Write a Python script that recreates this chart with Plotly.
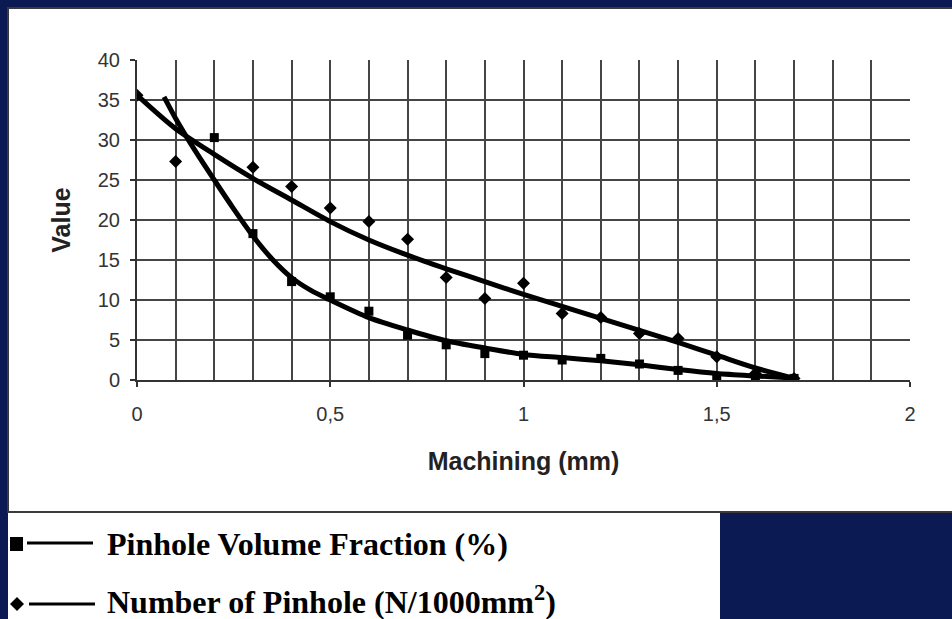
import plotly.graph_objects as go

# ---- data ----
# Pinhole Volume Fraction (%) - square markers
pvf_x = [0.2, 0.3, 0.4, 0.5, 0.6, 0.7, 0.8, 0.9, 1.0, 1.1, 1.2, 1.3, 1.4, 1.5, 1.6, 1.7]
pvf_y = [30.3, 18.3, 12.3, 10.4, 8.6, 5.6, 4.4, 3.3, 3.1, 2.5, 2.7, 2.0, 1.2, 0.2, 0.2, 0.2]
# fitted curve for Pinhole Volume Fraction
pvf_fit_x = [0.07, 0.1, 0.15, 0.2, 0.25, 0.3, 0.35, 0.4, 0.45, 0.5, 0.6, 0.7, 0.8, 0.9, 1.0, 1.1, 1.2, 1.3, 1.4, 1.5, 1.6, 1.7]
pvf_fit_y = [35.4, 32.7, 28.7, 25.0, 21.4, 18.0, 15.1, 12.8, 11.2, 10.0, 7.8, 6.25, 4.9, 4.0, 3.2, 2.8, 2.4, 1.9, 1.3, 0.8, 0.5, 0.25]

# Number of Pinhole (N/1000mm2) - diamond markers
nop_x = [0.0, 0.1, 0.3, 0.4, 0.5, 0.6, 0.7, 0.8, 0.9, 1.0, 1.1, 1.2, 1.3, 1.4, 1.5, 1.6, 1.7]
nop_y = [35.6, 27.3, 26.6, 24.2, 21.5, 19.8, 17.6, 12.8, 10.2, 12.1, 8.3, 7.8, 5.8, 5.2, 2.9, 0.8, 0.2]
# fitted curve for Number of Pinhole
nop_fit_x = [0.0, 0.1, 0.2, 0.3, 0.4, 0.5, 0.6, 0.7, 0.8, 0.9, 1.0, 1.1, 1.2, 1.3, 1.4, 1.5, 1.6, 1.7]
nop_fit_y = [35.6, 31.4, 28.2, 25.2, 22.5, 19.8, 17.5, 15.6, 13.9, 12.3, 10.7, 9.2, 7.7, 6.2, 4.7, 3.1, 1.5, 0.2]

x_tick_vals = [0, 0.5, 1, 1.5, 2]
x_tick_text = ["0", "0,5", "1", "1,5", "2"]
y_tick_vals = [0, 5, 10, 15, 20, 25, 30, 35, 40]

legend_labels = ["Pinhole Volume Fraction (%)", "Number of Pinhole (N/1000mm<sup>2</sup>)"]

# ---- figure geometry ----
W, H = 952, 619
L, R, T, B = 137, 910, 60, 380  # plot area in pixels


def px(x):
    return (x - L) / (R - L)


def py(y):
    return (B - y) / (B - T)


NAVY = "#0b1a52"
GRID = "#454545"

fig = go.Figure()

fig.add_trace(go.Scatter(x=pvf_fit_x, y=pvf_fit_y, mode="lines",
                         line=dict(color="black", width=5, shape="spline", smoothing=0.8),
                         showlegend=False, hoverinfo="skip"))
fig.add_trace(go.Scatter(x=nop_fit_x, y=nop_fit_y, mode="lines",
                         line=dict(color="black", width=5, shape="spline", smoothing=0.8),
                         showlegend=False, hoverinfo="skip"))
fig.add_trace(go.Scatter(x=pvf_x, y=pvf_y, mode="markers", name=legend_labels[0],
                         marker=dict(symbol="square", size=9, color="black"),
                         showlegend=False))
fig.add_trace(go.Scatter(x=nop_x, y=nop_y, mode="markers", name=legend_labels[1],
                         marker=dict(symbol="diamond", size=10, color="black"),
                         showlegend=False))

shapes = [
    # white chart box with dark border
    dict(type="rect", xref="paper", yref="paper", x0=px(8), x1=px(965), y0=py(512), y1=py(8),
         fillcolor="white", line=dict(color="#3a3a3a", width=2), layer="below"),
    # white legend area below the box
    dict(type="rect", xref="paper", yref="paper", x0=px(8), x1=px(720), y0=py(625), y1=py(513),
         fillcolor="white", line=dict(width=0), layer="below"),
    # legend glyphs
    dict(type="rect", xref="paper", yref="paper", x0=px(10), x1=px(23), y0=py(551), y1=py(537),
         fillcolor="black", line=dict(width=0)),
    dict(type="line", xref="paper", yref="paper", x0=px(27), x1=px(93), y0=py(543), y1=py(543),
         line=dict(color="black", width=3)),
    dict(type="path", xref="paper", yref="paper",
         path=f"M {px(10)} {py(604)} L {px(17)} {py(597)} L {px(24)} {py(604)} L {px(17)} {py(611)} Z",
         fillcolor="black", line=dict(width=0)),
    dict(type="line", xref="paper", yref="paper", x0=px(29), x1=px(95), y0=py(604), y1=py(604),
         line=dict(color="black", width=3)),
]

annotations = [
    dict(text=legend_labels[0], xref="paper", yref="paper", x=px(105), y=py(544),
         xanchor="left", yanchor="middle", showarrow=False,
         font=dict(family="Liberation Serif", size=32, color="black", weight="bold")),
    dict(text=legend_labels[1], xref="paper", yref="paper", x=px(105), y=py(600),
         xanchor="left", yanchor="middle", showarrow=False,
         font=dict(family="Liberation Serif", size=32, color="black", weight="bold")),
]

fig.update_layout(
    width=W, height=H,
    margin=dict(l=L, r=W - R, t=T, b=H - B, pad=0),
    paper_bgcolor=NAVY, plot_bgcolor="white",
    shapes=shapes, annotations=annotations,
    showlegend=False,
    xaxis=dict(range=[0, 2], tickmode="array", tickvals=x_tick_vals, ticktext=x_tick_text,
               showgrid=True, gridcolor=GRID, gridwidth=2,
               minor=dict(tickmode="linear", tick0=0, dtick=0.1, showgrid=True,
                          gridcolor=GRID, gridwidth=2, ticks=""),
               ticks="outside", ticklen=5, tickcolor="#333", tickwidth=1.5,
               showline=True, linecolor="#333", linewidth=2, zeroline=False,
               ticklabelstandoff=10,
               tickfont=dict(family="Liberation Sans", size=20, color="#333"),
               title=dict(text="<b>Machining (mm)</b>", standoff=28,
                          font=dict(family="Liberation Sans", size=25, color="#222"))),
    yaxis=dict(range=[0, 40], tickmode="array", tickvals=y_tick_vals,
               showgrid=True, gridcolor=GRID, gridwidth=2,
               ticks="outside", ticklen=5, tickcolor="#333", tickwidth=1.5,
               showline=True, linecolor="#333", linewidth=2, zeroline=False,
               ticklabelstandoff=6,
               tickfont=dict(family="Liberation Sans", size=20, color="#333"),
               title=dict(text="<b>Value</b>", standoff=20,
                          font=dict(family="Liberation Sans", size=25, color="#222"))),
)

post = ("document.body.style.margin='0';document.body.style.padding='0';"
        "document.body.style.background='" + NAVY + "';"
        "document.documentElement.style.background='" + NAVY + "';"
        "document.body.style.overflow='hidden';")

fig.write_html("out.html", post_script=post, config={"displayModeBar": False})
